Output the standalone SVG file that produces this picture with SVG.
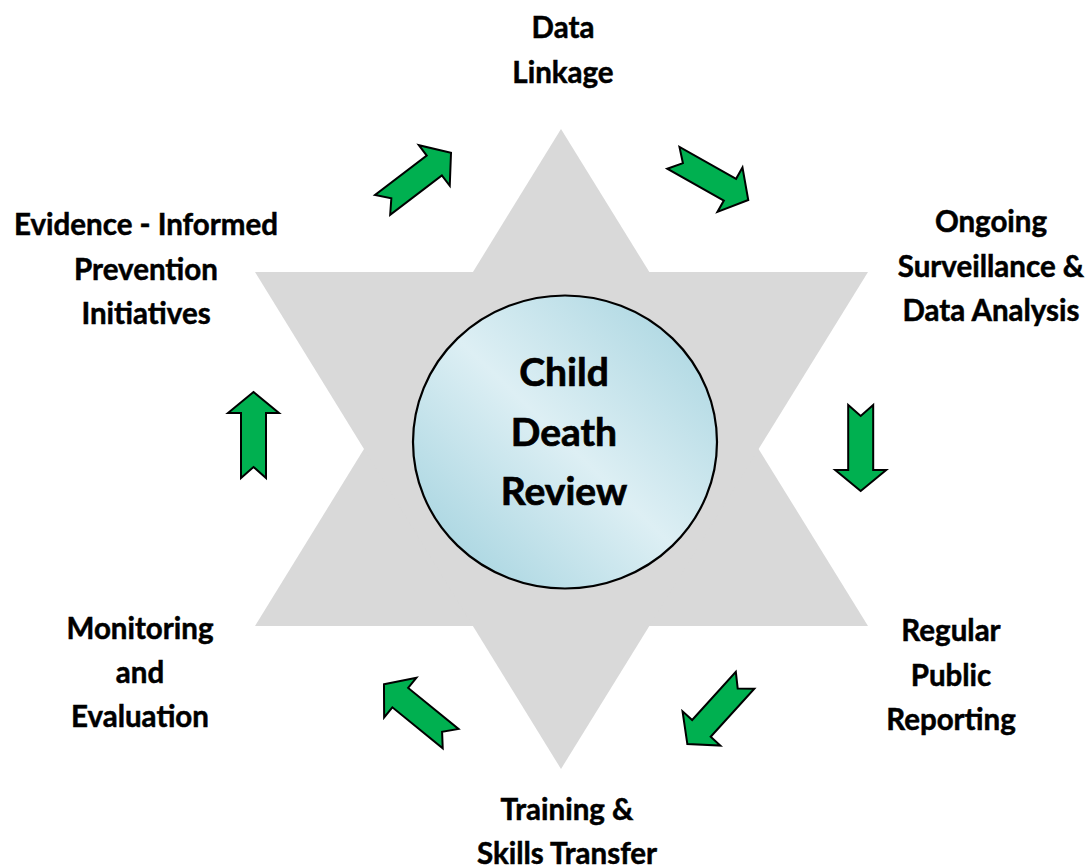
<svg xmlns="http://www.w3.org/2000/svg" width="1092" height="868" viewBox="0 0 1092 868">
  <defs>
    <linearGradient id="hubFill" x1="0" y1="1" x2="1" y2="0">
      <stop offset="0" stop-color="#9ccfdc"/>
      <stop offset="0.5" stop-color="#ddeff4"/>
      <stop offset="1" stop-color="#a3d2de"/>
    </linearGradient>
    <!-- block arrow pointing along +x, centred on the origin -->
    <polygon id="blockArrow" points="43,0 22,25.5 22,12.5 -43,12.5 -32,0 -43,-12.5 22,-12.5 22,-25.5"/>
  </defs>
  <style>
    .star { fill: #d9d9d9; }
    .hub { fill: url(#hubFill); stroke: #000; stroke-width: 2.2; }
    .flow use { fill: #00b050; stroke: #000; stroke-width: 2; stroke-linejoin: miter; }
    .label { font-family: Lato, "Liberation Sans", sans-serif; font-weight: bold; font-size: 29.5px; fill: #000; stroke: #000; stroke-width: 0.5; text-anchor: middle; }
    .hub-label { font-family: Lato, "Liberation Sans", sans-serif; font-weight: bold; font-size: 39px; fill: #000; stroke: #000; stroke-width: 0.7; text-anchor: middle; }
  </style>

  <rect width="1092" height="868" fill="#fff"/>

  <!-- six-pointed backdrop: two overlapping triangles -->
  <g id="star" class="star">
    <polygon points="561,129 255,626 868,626"/>
    <polygon points="561,769 255,272 868,272"/>
  </g>

  <!-- centre hub -->
  <g id="hub">
    <ellipse class="hub" cx="565" cy="442" rx="152" ry="146.5"/>
    <text class="hub-label" x="564" y="386">Child</text>
    <text class="hub-label" x="564" y="446">Death</text>
    <text class="hub-label" x="564" y="505">Review</text>
  </g>

  <!-- cycle stages -->
  <g id="stage-data-linkage">
    <text class="label" x="563" y="38">Data</text>
    <text class="label" x="563" y="83">Linkage</text>
  </g>
  <g id="stage-surveillance">
    <text class="label" x="991" y="232">Ongoing</text>
    <text class="label" x="991" y="277">Surveillance &amp;</text>
    <text class="label" x="991" y="321">Data Analysis</text>
  </g>
  <g id="stage-reporting">
    <text class="label" x="951" y="641">Regular</text>
    <text class="label" x="951" y="686">Public</text>
    <text class="label" x="951" y="730">Reporting</text>
  </g>
  <g id="stage-training">
    <text class="label" x="567" y="820">Training &amp;</text>
    <text class="label" x="567" y="864">Skills Transfer</text>
  </g>
  <g id="stage-monitoring">
    <text class="label" x="140" y="639">Monitoring</text>
    <text class="label" x="140" y="683">and</text>
    <text class="label" x="140" y="727">Evaluation</text>
  </g>
  <g id="stage-prevention">
    <text class="label" x="146" y="235">Evidence - Informed</text>
    <text class="label" x="146" y="280">Prevention</text>
    <text class="label" x="146" y="324">Initiatives</text>
  </g>

  <!-- connectors: clockwise block arrows -->
  <g id="connectors" class="flow">
    <use href="#blockArrow" transform="translate(416.8,178.8) rotate(-37.3)"/>
    <use href="#blockArrow" transform="translate(710.8,178.9) rotate(29.4)"/>
    <use href="#blockArrow" transform="translate(860.7,448) rotate(90)"/>
    <use href="#blockArrow" transform="translate(716.2,712.1) rotate(132.2)"/>
    <use href="#blockArrow" transform="translate(417.3,711.5) rotate(-140.8)"/>
    <use href="#blockArrow" transform="translate(253.5,435) rotate(-90)"/>
  </g>
</svg>
